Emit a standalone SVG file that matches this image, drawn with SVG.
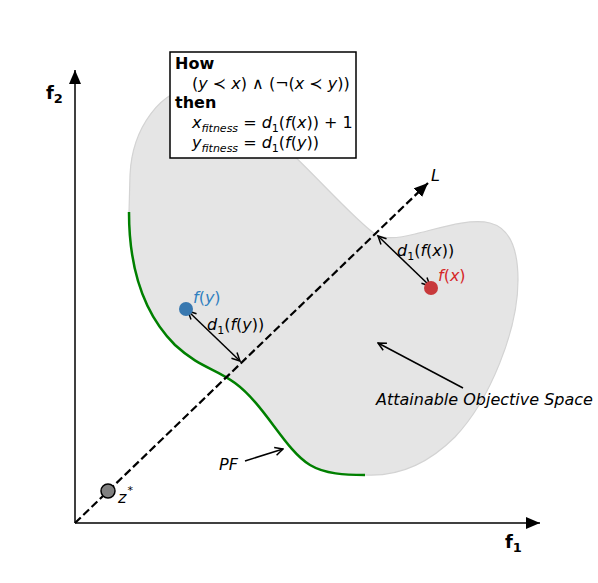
<svg xmlns="http://www.w3.org/2000/svg" width="598" height="583" viewBox="0 0 598 583">
<style>
text{font-family:"DejaVu Sans","Liberation Sans",sans-serif;font-size:16px;fill:#000}
.i{font-style:italic}
.b{font-weight:bold}
.sub{font-size:11px}
.ax{stroke:#000;stroke-width:1.5;fill:none}
.dar{stroke:#000;stroke-width:1.5;fill:none}
</style>
<defs>
<marker id="tri" viewBox="0 0 14 12" refX="14" refY="6" markerWidth="14" markerHeight="12" markerUnits="userSpaceOnUse" orient="auto">
<path d="M0,0 L14,6 L0,12 Z" fill="#000"/>
</marker>
<marker id="open" viewBox="0 0 10 10" refX="9" refY="5" markerWidth="10" markerHeight="10" markerUnits="userSpaceOnUse" orient="auto-start-reverse">
<path d="M1,1 L9,5 L1,9" fill="none" stroke="#000" stroke-width="1.5"/>
</marker>
</defs>

<g id="space">
<path d="M129,212 C129,260 140,310 175,345 C200,368 215,368 235,383 C265,405 285,450 310,465 C325,474 345,475 365,475 C400,477 430,462 455,437 C490,400 518,330 518,280 C518,250 510,228 490,223 C470,218 440,228 415,234 C400,238 385,240 375,234 C355,220 315,175 290,152 C265,125 230,90 200,88 C160,86 132,130 130,175 Z" fill="#e5e5e5" stroke="#d3d3d3" stroke-width="1.2"/>
</g>

<g id="pf">
<path d="M129,212 C129,260 140,310 175,345 C200,368 215,368 235,383 C265,405 285,450 310,465 C325,474 345,475 365,475" fill="none" stroke="#008000" stroke-width="2.5"/>
</g>

<g id="axes">
<line class="ax" x1="75" y1="523" x2="540" y2="523" marker-end="url(#tri)"/>
<line class="ax" x1="75" y1="523" x2="75" y2="70" marker-end="url(#tri)"/>
<text class="b" x="505" y="548" style="font-size:18px">f<tspan dy="4" style="font-size:13px">1</tspan></text>
<text class="b" x="46" y="99" style="font-size:18px">f<tspan dy="4" style="font-size:13px">2</tspan></text>
</g>

<g id="connectors">
<line x1="75" y1="523" x2="428" y2="183" stroke="#000" stroke-width="2.2" stroke-dasharray="8,3.5" marker-end="url(#tri)"/>
<line class="dar" x1="188" y1="311" x2="240" y2="361" marker-start="url(#open)" marker-end="url(#open)"/>
<line class="dar" x1="378" y1="236" x2="430" y2="286" marker-start="url(#open)" marker-end="url(#open)"/>
<line class="dar" x1="245" y1="461" x2="283" y2="449" marker-end="url(#open)"/>
<line class="dar" x1="463" y1="388" x2="378" y2="343" marker-end="url(#open)"/>
</g>

<g id="zstar">
<circle cx="108" cy="491" r="7" fill="#808080" stroke="#000" stroke-width="1.5"/>
<text x="118" y="503"><tspan class="i">z</tspan><tspan dx="1" dy="-9" style="font-size:11px">*</tspan></text>
</g>

<g id="fy">
<circle cx="186" cy="309" r="7" fill="#3878b0"/>
<text class="i" x="193" y="303" style="fill:#2f7fc0">f<tspan style="font-style:normal">(</tspan>y<tspan style="font-style:normal">)</tspan></text>
<text x="207" y="330"><tspan class="i">d</tspan><tspan class="sub" dy="4">1</tspan><tspan dy="-4">(</tspan><tspan class="i">f</tspan>(<tspan class="i">y</tspan>))</text>
</g>

<g id="fx">
<circle cx="431" cy="288" r="7" fill="#c8393b"/>
<text class="i" x="438" y="281" style="fill:#d62728">f<tspan style="font-style:normal">(</tspan>x<tspan style="font-style:normal">)</tspan></text>
<text x="397" y="256"><tspan class="i">d</tspan><tspan class="sub" dy="4">1</tspan><tspan dy="-4">(</tspan><tspan class="i">f</tspan>(<tspan class="i">x</tspan>))</text>
</g>

<g id="labels">
<text class="i" x="431" y="181">L</text>
<text class="i" x="219" y="470">PF</text>
<text class="i" x="376" y="405" style="font-size:16px">Attainable Objective Space</text>
</g>

<g id="rulebox">
<rect x="170" y="52" width="186" height="106" fill="#fff" stroke="#000" stroke-width="1.5"/>
<text class="b" x="175" y="69">How</text>
<text x="192" y="89">(<tspan class="i">y</tspan> ≺ <tspan class="i">x</tspan>) ∧ (¬(<tspan class="i">x</tspan> ≺ <tspan class="i">y</tspan>))</text>
<text class="b" x="175" y="108">then</text>
<text x="192" y="128"><tspan class="i">x</tspan><tspan class="sub i" dy="4">fitness</tspan><tspan dy="-4"> = </tspan><tspan class="i">d</tspan><tspan class="sub" dy="4">1</tspan><tspan dy="-4">(</tspan><tspan class="i">f</tspan>(<tspan class="i">x</tspan>)) + 1</text>
<text x="192" y="148"><tspan class="i">y</tspan><tspan class="sub i" dy="4">fitness</tspan><tspan dy="-4"> = </tspan><tspan class="i">d</tspan><tspan class="sub" dy="4">1</tspan><tspan dy="-4">(</tspan><tspan class="i">f</tspan>(<tspan class="i">y</tspan>))</text>
</g>
</svg>
